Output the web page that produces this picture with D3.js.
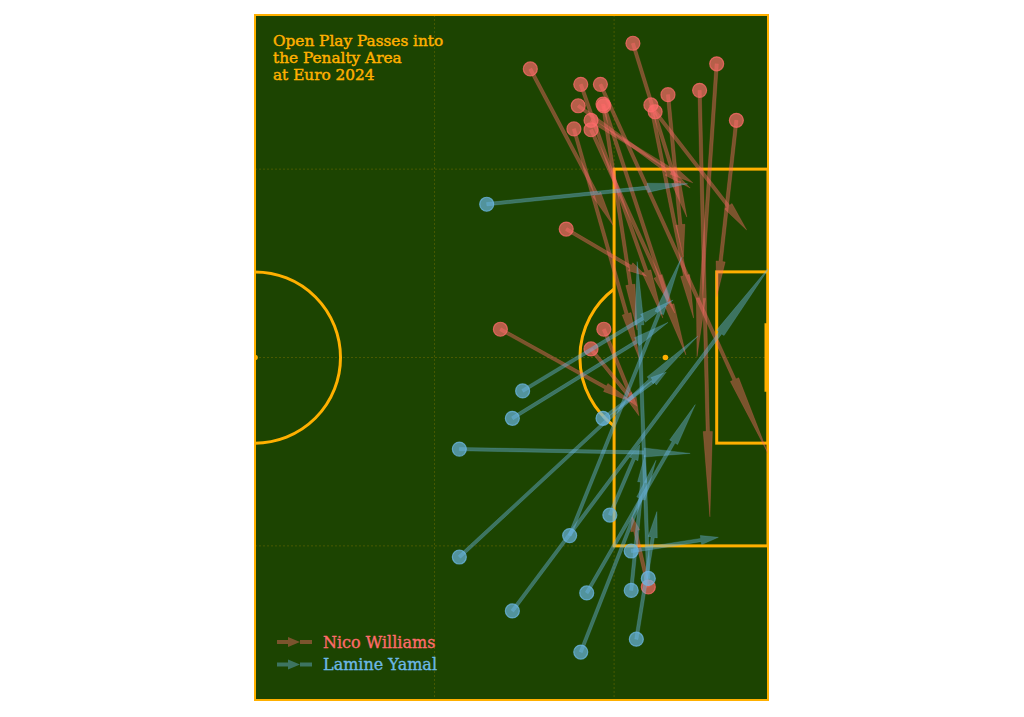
<!DOCTYPE html>
<html>
<head>
<meta charset="utf-8">
<script src="https://cdn.jsdelivr.net/npm/d3@7"></script>
<style>
  body { margin: 0; background: #ffffff; }
  svg { display: block; }
</style>
</head>
<body>
<svg id="chart" width="1024" height="717"></svg>
<script>
// =====================
// Pass data (StatsBomb pitch units, attacking left to right)
// =====================
const nicoStartX = [104.2, 92.2, 98.1, 100.4, 114.0, 112.0, 108.3, 97.8, 100.7, 100.8, 106.3, 106.8, 99.3, 97.3, 99.3, 116.3, 96.4, 88.7, 100.8, 99.3, 106.0];
const nicoStartY = [3.3, 6.3, 8.1, 8.1, 5.7, 8.8, 9.3, 10.6, 10.4, 10.6, 10.5, 11.3, 12.3, 13.3, 13.4, 12.3, 25.0, 36.7, 36.7, 39.0, 66.8];
const nicoEndX = [110.5, 101.9, 107.7, 120.0, 111.7, 113.2, 110.1, 110.9, 104.7, 110.4, 111.3, 117.5, 111.2, 105.0, 109.1, 114.0, 105.8, 104.1, 104.9, 104.7, 104.1];
const nicoEndY = [23.6, 24.6, 35.4, 51.2, 39.9, 58.6, 28.3, 20.2, 36.8, 39.7, 35.4, 25.1, 19.6, 40.3, 34.8, 32.9, 30.5, 45.2, 46.8, 45.7, 58.6];

const yamalStartX = [87.1, 91.3, 90.1, 83.9, 100.7, 101.5, 96.8, 83.9, 104.0, 90.1, 98.8, 104.0, 106.0, 104.6, 98.1];
const yamalStartY = [22.1, 43.9, 47.1, 50.7, 47.1, 58.4, 60.8, 63.3, 62.6, 69.6, 67.5, 67.2, 65.8, 72.9, 74.4];
const yamalEndX = [110.6, 108.9, 108.3, 110.9, 108.1, 105.0, 109.9, 111.8, 114.2, 120.5, 111.5, 105.6, 104.7, 107.0, 106.9];
const yamalEndY = [19.7, 33.3, 35.9, 51.2, 41.7, 50.2, 28.3, 37.5, 61.0, 29.0, 45.5, 51.4, 28.8, 58.0, 52.0];

const titleLines = ['Open Play Passes into', 'the Penalty Area', 'at Euro 2024'];
const players = ['Nico Williams', 'Lamine Yamal'];

// =====================
// Style
// =====================
const
  pitchColor = '#1c4401',
  lineColor = '#ffb000',
  nicoColor = '#ff6b6b',
  yamalColor = '#6cb8e6',
  fontFamily = '"DejaVu Serif", serif';

// =====================
// Scales: half pitch 60-120 x 0-80
// =====================
const xScale = d3.scaleLinear([60, 120], [255, 768]);
const yScale = d3.scaleLinear([0, 80], [15, 700]);

const svg = d3.select('#chart');

svg.append('rect')        // Pitch background
  .attr('x', xScale(60))
  .attr('y', yScale(0))
  .attr('width', xScale(120) - xScale(60))
  .attr('height', yScale(80) - yScale(0))
  .attr('fill', pitchColor);

svg.append('clipPath').attr('id', 'pitch-clip')
  .append('rect')
  .attr('x', xScale(60))
  .attr('y', yScale(0))
  .attr('width', xScale(120) - xScale(60))
  .attr('height', yScale(80) - yScale(0));

const pitch = svg.append('g').attr('clip-path', 'url(#pitch-clip)');

// Positional grid (dashed, faint)
[81, 102].forEach(v => {
  pitch.append('line')
    .attr('x1', xScale(v)).attr('x2', xScale(v))
    .attr('y1', yScale(0)).attr('y2', yScale(80))
    .attr('stroke', lineColor).attr('stroke-opacity', 0.2)
    .attr('stroke-width', 1).attr('stroke-dasharray', '2,2');
});
[18, 40, 62].forEach(v => {
  pitch.append('line')
    .attr('x1', xScale(60)).attr('x2', xScale(120))
    .attr('y1', yScale(v)).attr('y2', yScale(v))
    .attr('stroke', lineColor).attr('stroke-opacity', 0.2)
    .attr('stroke-width', 1).attr('stroke-dasharray', '2,2');
});

// Pitch markings
const lines = pitch.append('g')
  .attr('fill', 'none')
  .attr('stroke', lineColor)
  .attr('stroke-width', 3);

lines.append('rect')      // Penalty area
  .attr('x', xScale(102)).attr('y', yScale(18))
  .attr('width', xScale(120) - xScale(102))
  .attr('height', yScale(62) - yScale(18));

lines.append('rect')      // Six-yard box
  .attr('x', xScale(114)).attr('y', yScale(30))
  .attr('width', xScale(120) - xScale(114))
  .attr('height', yScale(50) - yScale(30));

const rx = xScale(70) - xScale(60), ry = yScale(10) - yScale(0);
lines.append('path')      // Centre circle (right half)
  .attr('d', `M${xScale(60)},${yScale(30)} A${rx},${ry} 0 0 1 ${xScale(60)},${yScale(50)}`);

lines.append('path')      // Penalty arc
  .attr('d', `M${xScale(102)},${yScale(32)} A${rx},${ry} 0 0 0 ${xScale(102)},${yScale(48)}`);

pitch.append('line')      // Goal
  .attr('x1', xScale(120) - 2).attr('x2', xScale(120) - 2)
  .attr('y1', yScale(36)).attr('y2', yScale(44))
  .attr('stroke', lineColor).attr('stroke-width', 3);

[[60, 40], [108, 40]].forEach(p => {   // Centre spot and penalty spot
  pitch.append('circle')
    .attr('cx', xScale(p[0])).attr('cy', yScale(p[1]))
    .attr('r', 2.8).attr('fill', lineColor);
});

svg.append('rect')        // Pitch border
  .attr('x', xScale(60)).attr('y', yScale(0))
  .attr('width', xScale(120) - xScale(60))
  .attr('height', yScale(80) - yScale(0))
  .attr('fill', 'none').attr('stroke', lineColor).attr('stroke-width', 2);

// =====================
// Arrow shape: shaft + long narrow head (20% of length)
// =====================
function arrowPath(x1, y1, x2, y2) {
  const dx = x2 - x1, dy = y2 - y1, len = Math.hypot(dx, dy);
  const ux = dx / len, uy = dy / len, nx = -uy, ny = ux;
  const w = 1.7, hw = 4.6, hl = Math.max(12, 0.2 * len);
  const bx = x2 - ux * hl, by = y2 - uy * hl;
  const pts = [
    [x1 + nx * w, y1 + ny * w],
    [bx + nx * w, by + ny * w],
    [bx + nx * hw, by + ny * hw],
    [x2, y2],
    [bx - nx * hw, by - ny * hw],
    [bx - nx * w, by - ny * w],
    [x1 - nx * w, y1 - ny * w]
  ];
  return 'M' + pts.map(p => p[0].toFixed(1) + ',' + p[1].toFixed(1)).join('L') + 'Z';
}

function drawPlayer(sx, sy, ex, ey, color) {
  const passes = sx.map((d, i) => ({ x1: sx[i], y1: sy[i], x2: ex[i], y2: ey[i] }));
  const g = svg.append('g').attr('clip-path', 'url(#pitch-clip)');
  g.selectAll('circle')
    .data(passes)
    .enter()
    .append('circle')
    .attr('cx', d => xScale(d.x1))
    .attr('cy', d => yScale(d.y1))
    .attr('r', 7)
    .attr('fill', color).attr('fill-opacity', 0.68)
    .attr('stroke', color).attr('stroke-opacity', 0.75).attr('stroke-width', 1.2);
  g.selectAll('path')
    .data(passes)
    .enter()
    .append('path')
    .attr('d', d => arrowPath(xScale(d.x1), yScale(d.y1), xScale(d.x2), yScale(d.y2)))
    .attr('fill', color).attr('fill-opacity', 0.42)
    .attr('stroke', color).attr('stroke-opacity', 0.25).attr('stroke-width', 0.8);
}

drawPlayer(nicoStartX, nicoStartY, nicoEndX, nicoEndY, nicoColor);
drawPlayer(yamalStartX, yamalStartY, yamalEndX, yamalEndY, yamalColor);

// =====================
// Title
// =====================
svg.append('text')
  .attr('x', 273).attr('y', 46)
  .attr('font-family', fontFamily).attr('font-size', 15.3)
  .attr('fill', lineColor)
  .attr('stroke', lineColor).attr('stroke-width', 0.45)
  .selectAll('tspan')
  .data(titleLines)
  .enter()
  .append('tspan')
  .attr('x', 273)
  .attr('dy', (d, i) => i === 0 ? 0 : 17)
  .text(d => d);

// =====================
// Legend
// =====================
const legend = svg.append('g');
[nicoColor, yamalColor].forEach((c, i) => {
  const y = 642 + i * 22.5;
  legend.append('path')
    .attr('d', `M277,${y - 2}L288,${y - 2}L288,${y - 5}L300,${y}L288,${y + 5}L288,${y + 2}L277,${y + 2}Z`)
    .attr('fill', c).attr('fill-opacity', 0.42);
  legend.append('rect')
    .attr('x', 300).attr('y', y - 2).attr('width', 12).attr('height', 4)
    .attr('fill', c).attr('fill-opacity', 0.42);
  legend.append('text')
    .attr('x', 323).attr('y', y + 5.8)
    .attr('font-family', fontFamily).attr('font-size', 16)
    .attr('fill', c)
    .attr('stroke', c).attr('stroke-width', 0.35)
    .text(players[i]);
});
</script>
</body>
</html>
